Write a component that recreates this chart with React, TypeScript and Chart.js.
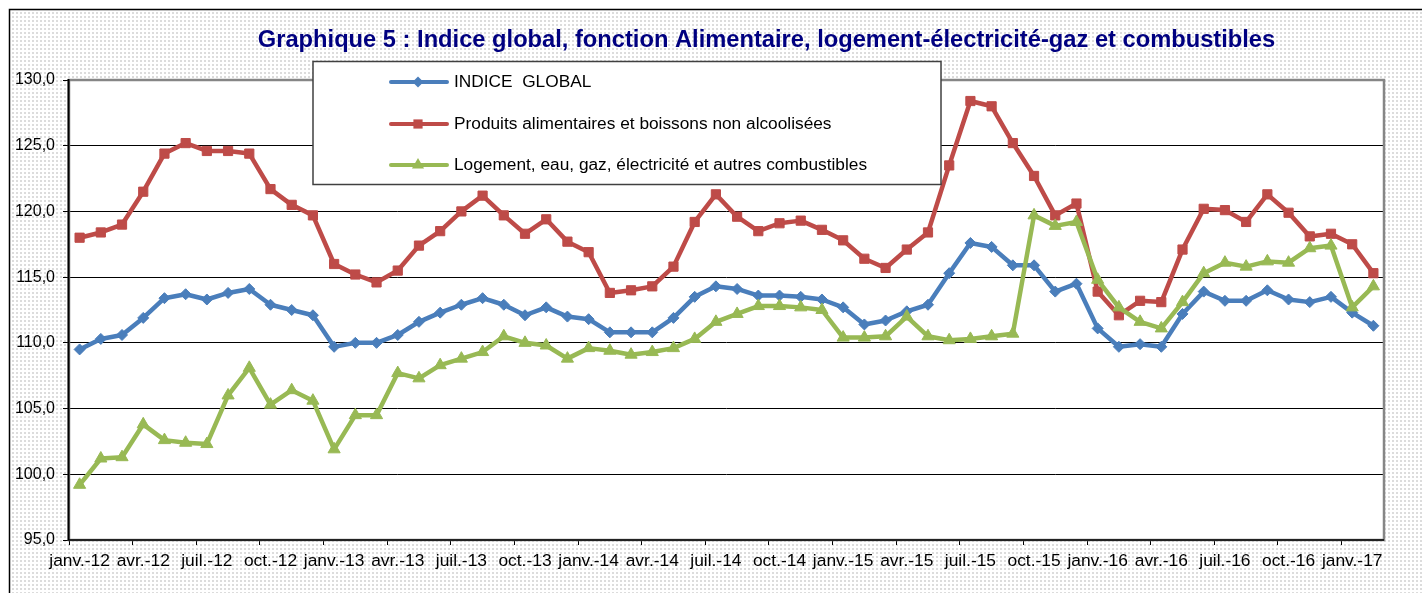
import React, { useEffect, useRef } from 'react';
import { Chart, registerables } from 'chart.js';

Chart.register(...registerables);

const TITLE = 'Graphique 5 : Indice global, fonction Alimentaire, logement-électricité-gaz et combustibles';

const categories = [
  'janv.-12', 'févr.-12', 'mars-12', 'avr.-12', 'mai-12', 'juin-12', 'juil.-12', 'août-12', 'sept.-12', 'oct.-12', 'nov.-12', 'déc.-12',
  'janv.-13', 'févr.-13', 'mars-13', 'avr.-13', 'mai-13', 'juin-13', 'juil.-13', 'août-13', 'sept.-13', 'oct.-13', 'nov.-13', 'déc.-13',
  'janv.-14', 'févr.-14', 'mars-14', 'avr.-14', 'mai-14', 'juin-14', 'juil.-14', 'août-14', 'sept.-14', 'oct.-14', 'nov.-14', 'déc.-14',
  'janv.-15', 'févr.-15', 'mars-15', 'avr.-15', 'mai-15', 'juin-15', 'juil.-15', 'août-15', 'sept.-15', 'oct.-15', 'nov.-15', 'déc.-15',
  'janv.-16', 'févr.-16', 'mars-16', 'avr.-16', 'mai-16', 'juin-16', 'juil.-16', 'août-16', 'sept.-16', 'oct.-16', 'nov.-16', 'déc.-16',
  'janv.-17', 'févr.-17',
];

const seriesNames = [
  'INDICE  GLOBAL',
  'Produits alimentaires et boissons non alcoolisées',
  'Logement, eau, gaz, électricité et autres combustibles',
];

const indiceGlobal = [
  109.5, 110.3, 110.6, 111.9, 113.4, 113.7, 113.3, 113.8, 114.1, 112.9, 112.5, 112.1,
  109.7, 110.0, 110.0, 110.6, 111.6, 112.3, 112.9, 113.4, 112.9, 112.1, 112.7, 112.0,
  111.8, 110.8, 110.8, 110.8, 111.9, 113.5, 114.3, 114.1, 113.6, 113.6, 113.5, 113.3,
  112.7, 111.4, 111.7, 112.4, 112.9, 115.3, 117.6, 117.3, 115.9, 115.9, 113.9, 114.5,
  111.1, 109.7, 109.9, 109.7, 112.2, 113.9, 113.2, 113.2, 114.0, 113.3, 113.1, 113.5,
  112.3, 111.3,
];

const alimentaire = [
  118.0, 118.4, 119.0, 121.5, 124.4, 125.2, 124.6, 124.6, 124.4, 121.7, 120.5, 119.7,
  116.0, 115.2, 114.6, 115.5, 117.4, 118.5, 120.0, 121.2, 119.7, 118.3, 119.4, 117.7,
  116.9, 113.8, 114.0, 114.3, 115.8, 119.2, 121.3, 119.6, 118.5, 119.1, 119.3, 118.6,
  117.8, 116.4, 115.7, 117.1, 118.4, 123.5, 128.4, 128.0, 125.2, 122.7, 119.7, 120.6,
  113.9, 112.1, 113.2, 113.1, 117.1, 120.2, 120.1, 119.2, 121.3, 119.9, 118.1, 118.3,
  117.5, 115.3,
];

const logement = [
  99.2, 101.2, 101.3, 103.8, 102.6, 102.4, 102.3, 106.0, 108.1, 105.3, 106.4, 105.6,
  101.9, 104.5, 104.5, 107.7, 107.3, 108.3, 108.8, 109.3, 110.5, 110.0, 109.8, 108.8,
  109.6, 109.4, 109.1, 109.3, 109.6, 110.3, 111.6, 112.2, 112.8, 112.8, 112.7, 112.5,
  110.4, 110.4, 110.5, 112.0, 110.5, 110.2, 110.3, 110.5, 110.7, 119.7, 118.9, 119.2,
  114.8, 112.7, 111.6, 111.1, 113.1, 115.3, 116.1, 115.8, 116.2, 116.1, 117.2, 117.4,
  112.7, 114.3,
];

const colors = ['#4A7EBB', '#BE4B48', '#98B954'];
const pointStyles = ['rectRot', 'rect', 'triangle'];
const pointRadii = [5.5, 6.5, 7];

const FONT = "'Liberation Sans', Arial, sans-serif";

const backgroundPlugin = {
  id: 'bgPattern',
  beforeDraw(chart: any) {
    const ctx = chart.ctx;
    const w = chart.width;
    const h = chart.height;
    ctx.save();
    ctx.fillStyle = '#ffffff';
    ctx.fillRect(0, 0, w, h);
    const tile = document.createElement('canvas');
    tile.width = 4;
    tile.height = 4;
    const t = tile.getContext('2d')!;
    t.fillStyle = '#ffffff';
    t.fillRect(0, 0, 4, 4);
    t.fillStyle = '#dcdcdc';
    t.fillRect(0, 0, 2, 2);
    const pat = ctx.createPattern(tile, 'repeat');
    ctx.fillStyle = pat;
    ctx.fillRect(10, 10, w - 10, h - 10);
    ctx.strokeStyle = '#000000';
    ctx.lineWidth = 1.5;
    ctx.beginPath();
    ctx.moveTo(9.5, h);
    ctx.lineTo(9.5, 9.5);
    ctx.lineTo(w, 9.5);
    ctx.stroke();
    const a = chart.chartArea;
    ctx.fillStyle = '#ffffff';
    ctx.fillRect(a.left, a.top, a.right - a.left, a.bottom - a.top);
    ctx.restore();
  },
};

const overlayPlugin = {
  id: 'overlay',
  afterDraw(chart: any) {
    const ctx = chart.ctx;
    const a = chart.chartArea;
    ctx.save();
    // plot border
    ctx.strokeStyle = '#868686';
    ctx.lineWidth = 2.5;
    ctx.strokeRect(a.left, a.top, a.right - a.left, a.bottom - a.top);
    ctx.strokeStyle = '#000000';
    ctx.lineWidth = 2;
    ctx.beginPath();
    ctx.moveTo(a.left - 0.5, a.top - 1);
    ctx.lineTo(a.left - 0.5, a.bottom);
    ctx.stroke();
    ctx.lineWidth = 1.5;
    ctx.beginPath();
    ctx.moveTo(a.left - 1, a.bottom);
    ctx.lineTo(a.right, a.bottom);
    ctx.stroke();

    // title
    ctx.fillStyle = '#000080';
    ctx.font = `bold 23.7px ${FONT}`;
    ctx.textAlign = 'center';
    ctx.textBaseline = 'alphabetic';
    ctx.fillText(TITLE, 766.5, 47);

    // legend box
    const bx = 313, by = 61.5, bw = 628, bh = 123;
    ctx.fillStyle = '#ffffff';
    ctx.fillRect(bx, by, bw, bh);
    ctx.strokeStyle = '#404040';
    ctx.lineWidth = 1.5;
    ctx.strokeRect(bx, by, bw, bh);
    const rows = [82, 124, 165];
    chart.data.datasets.forEach((ds: any, i: number) => {
      const y = rows[i];
      ctx.strokeStyle = ds.borderColor;
      ctx.lineWidth = 4;
      ctx.lineCap = 'round';
      ctx.beginPath();
      ctx.moveTo(391, y);
      ctx.lineTo(447, y);
      ctx.stroke();
      ctx.fillStyle = ds.borderColor;
      const r = ds.pointRadius;
      ctx.beginPath();
      const cx = 418;
      if (ds.pointStyle === 'rectRot') {
        ctx.moveTo(cx, y - r);
        ctx.lineTo(cx + r, y);
        ctx.lineTo(cx, y + r);
        ctx.lineTo(cx - r, y);
      } else if (ds.pointStyle === 'rect') {
        const s = r * Math.SQRT1_2;
        ctx.rect(cx - s, y - s, 2 * s, 2 * s);
      } else {
        ctx.moveTo(cx, y - r);
        ctx.lineTo(cx + r * Math.sin(2 * Math.PI / 3), y - r * Math.cos(2 * Math.PI / 3));
        ctx.lineTo(cx - r * Math.sin(2 * Math.PI / 3), y - r * Math.cos(2 * Math.PI / 3));
      }
      ctx.closePath();
      ctx.fill();
      ctx.fillStyle = '#000000';
      ctx.font = `17.3px ${FONT}`;
      ctx.textAlign = 'left';
      ctx.textBaseline = 'middle';
      ctx.fillText(ds.label, 454, y);
    });
    ctx.restore();
  },
};

export default function App() {
  const canvasRef = useRef<HTMLCanvasElement | null>(null);

  useEffect(() => {
    document.body.style.margin = '0';
    const canvas = canvasRef.current;
    if (!canvas) return;
    const datasets = [indiceGlobal, alimentaire, logement].map((data, i) => ({
      label: seriesNames[i],
      data,
      borderColor: colors[i],
      backgroundColor: colors[i],
      pointBackgroundColor: colors[i],
      pointBorderColor: colors[i],
      pointBorderWidth: 1,
      pointStyle: pointStyles[i],
      pointRadius: pointRadii[i],
      borderWidth: 4.5,
      borderJoinStyle: 'round' as const,
      borderCapStyle: 'round' as const,
      tension: 0,
      fill: false,
      order: 2 - i,
    }));

    const chart = new Chart(canvas, {
      type: 'line',
      data: { labels: categories, datasets },
      options: {
        responsive: false,
        animation: false,
        devicePixelRatio: 1,
        layout: { padding: { left: 0, right: 38, top: 80, bottom: 0 } },
        plugins: {
          legend: { display: false },
          title: { display: false },
          tooltip: { enabled: false },
        },
        scales: {
          x: {
            type: 'category',
            offset: true,
            border: { display: false },
            grid: {
              offset: true,
              drawOnChartArea: false,
              drawTicks: true,
              tickLength: 5,
              lineWidth: 1,
              color: (ctx: any) => (ctx.index !== undefined && ctx.index % 3 === 0 ? '#000000' : 'rgba(0,0,0,0)'),
            },
            ticks: {
              autoSkip: false,
              maxRotation: 0,
              minRotation: 0,
              padding: 6,
              color: '#000000',
              font: { family: FONT, size: 17.4 },
              callback: (_v: any, index: number) => (index % 3 === 0 ? categories[index] : ''),
            },
            afterFit: (scale: any) => {
              scale.height = 53;
            },
          },
          y: {
            min: 95,
            max: 130,
            border: { display: false },
            grid: {
              color: '#000000',
              lineWidth: 1,
              tickLength: 6,
            },
            ticks: {
              stepSize: 5,
              padding: 8,
              color: '#000000',
              font: { family: FONT, size: 16 },
              callback: (v: any) => Number(v).toFixed(1).replace('.', ','),
            },
            afterFit: (scale: any) => {
              scale.width = 69;
            },
          },
        },
      },
      plugins: [backgroundPlugin, overlayPlugin],
    });

    return () => {
      chart.destroy();
    };
  }, []);

  return (
    <div style={{ width: 1422, height: 593, position: 'relative', overflow: 'hidden' }}>
      <canvas ref={canvasRef} width={1422} height={593} style={{ display: 'block', width: 1422, height: 593 }} />
    </div>
  );
}
